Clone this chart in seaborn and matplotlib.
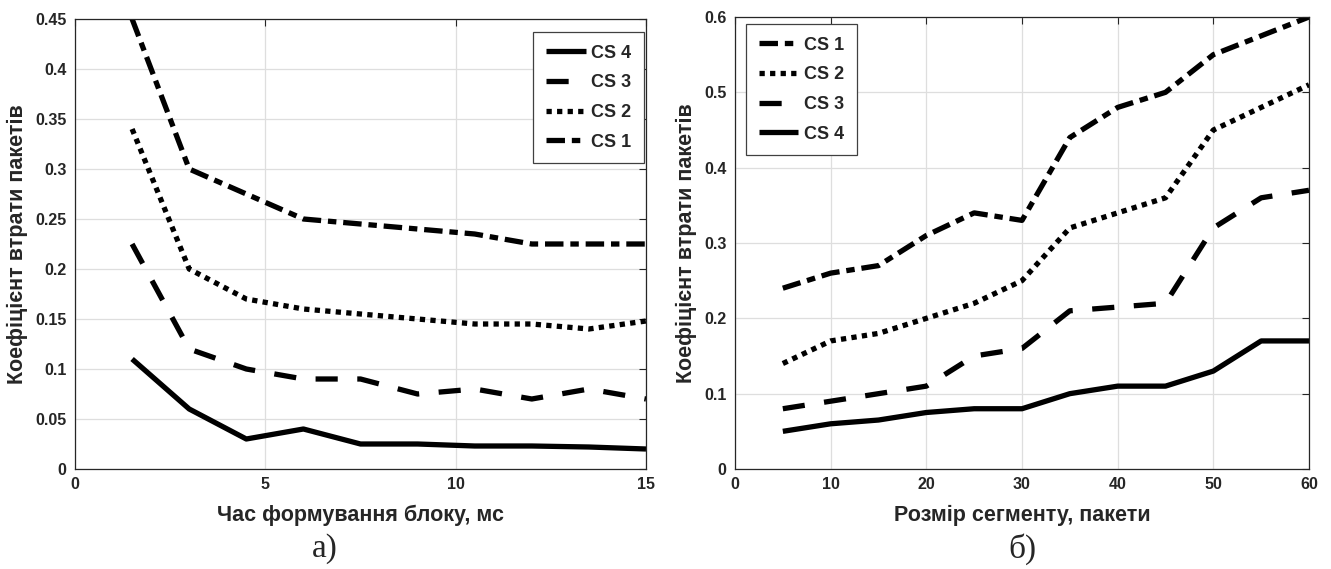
import matplotlib
matplotlib.use('Agg')
import matplotlib.pyplot as plt
import seaborn as sns

# a) block formation time, ms
t_ms = [1.5, 3, 4.5, 6, 7.5, 9, 10.5, 12, 13.5, 15]
a_cs1 = [0.45, 0.30, 0.275, 0.25, 0.245, 0.24, 0.235, 0.225, 0.225, 0.225]
a_cs2 = [0.34, 0.20, 0.17, 0.16, 0.155, 0.15, 0.145, 0.145, 0.14, 0.148]
a_cs3 = [0.225, 0.12, 0.10, 0.09, 0.09, 0.075, 0.08, 0.07, 0.08, 0.07]
a_cs4 = [0.11, 0.06, 0.03, 0.04, 0.025, 0.025, 0.023, 0.023, 0.022, 0.02]

# б) segment size, packets
seg = [5, 10, 15, 20, 25, 30, 35, 40, 45, 50, 55, 60]
b_cs1 = [0.24, 0.26, 0.27, 0.31, 0.34, 0.33, 0.44, 0.48, 0.50, 0.55, 0.575, 0.60]
b_cs2 = [0.14, 0.17, 0.18, 0.20, 0.22, 0.25, 0.32, 0.34, 0.36, 0.45, 0.48, 0.51]
b_cs3 = [0.08, 0.09, 0.10, 0.11, 0.15, 0.16, 0.21, 0.215, 0.22, 0.32, 0.36, 0.37]
b_cs4 = [0.05, 0.06, 0.065, 0.075, 0.08, 0.08, 0.10, 0.11, 0.11, 0.13, 0.17, 0.17]

names = ['CS 1', 'CS 2', 'CS 3', 'CS 4']
styles = {
    'CS 1': (0, (3.5, 1.3, 1.6, 1.3)),
    'CS 2': (0, (1, 1)),
    'CS 3': (0, (4.2, 3.7)),
    'CS 4': '-',
}

sns.set_style('whitegrid')
plt.rcParams['font.family'] = ['Liberation Sans', 'DejaVu Sans']
plt.rcParams['font.weight'] = 'bold'

fig = plt.figure(figsize=(13.31, 5.69), dpi=100)
W, H = 1331, 569
ax1 = fig.add_axes([75 / W, (H - 469) / H, (646 - 75) / W, (469 - 19) / H])
ax2 = fig.add_axes([735 / W, (H - 469) / H, (1309 - 735) / W, (469 - 17) / H])


def draw(ax, x, series, order, loc, xlim, ylim, xticks, yticks, xlabel, tag, tag_x, legend_pos):
    for name, vals in zip(names, series):
        sns.lineplot(x=x, y=vals, ax=ax, color='black', linewidth=3.8,
                     linestyle=styles[name], label=name, legend=False,
                     dash_capstyle='butt', solid_capstyle='butt')
    ax.set_xlim(*xlim)
    ax.set_ylim(*ylim)
    ax.set_xticks(xticks)
    ax.set_yticks(yticks)
    ax.set_xticklabels([f'{v:g}' for v in xticks])
    ax.set_yticklabels([f'{v:g}' for v in yticks])
    ax.tick_params(direction='in', length=5, width=0.8, top=True, right=True,
                   labelsize=11.5, colors='#262626', pad=6)
    for lab in ax.get_xticklabels() + ax.get_yticklabels():
        lab.set_fontweight('bold')
    ax.grid(True, color='#dedede', linewidth=0.9)
    for s in ax.spines.values():
        s.set_color('#262626')
        s.set_linewidth(0.9)
    ax.set_xlabel(xlabel, fontsize=15.5, fontweight='bold', labelpad=9)
    ax.set_ylabel('Коефіцієнт втрати пакетів', fontsize=15.5, fontweight='bold', labelpad=5)
    handles = {l.get_label(): l for l in ax.get_lines()}
    leg = ax.legend([handles[n] for n in order], order, loc=loc,
                    bbox_to_anchor=legend_pos, borderaxespad=0, fontsize=13,
                    handlelength=2.2, handletextpad=0.3, labelspacing=0.7,
                    borderpad=0.7, fancybox=False, framealpha=1, edgecolor='#404040')
    leg.get_frame().set_linewidth(0.9)
    fig.text(tag_x / W, (H - 549) / H, tag, ha='center', va='center',
             fontsize=24, fontweight='normal', family=['Liberation Serif', 'DejaVu Serif'])


draw(ax1, t_ms, [a_cs1, a_cs2, a_cs3, a_cs4], ['CS 4', 'CS 3', 'CS 2', 'CS 1'],
     'upper right', (0, 15), (0, 0.45), [0, 5, 10, 15],
     [0, 0.05, 0.1, 0.15, 0.2, 0.25, 0.3, 0.35, 0.4, 0.45],
     'Час формування блоку, мс', 'а)', 325, ((644 - 75) / 571, (469 - 32) / 450))

draw(ax2, seg, [b_cs1, b_cs2, b_cs3, b_cs4], ['CS 1', 'CS 2', 'CS 3', 'CS 4'],
     'upper left', (0, 60), (0, 0.6), [0, 10, 20, 30, 40, 50, 60],
     [0, 0.1, 0.2, 0.3, 0.4, 0.5, 0.6],
     'Розмір сегменту, пакети', 'б)', 1022, ((746 - 735) / 574, (469 - 24) / 452))

fig.savefig('out.png', dpi=100)
